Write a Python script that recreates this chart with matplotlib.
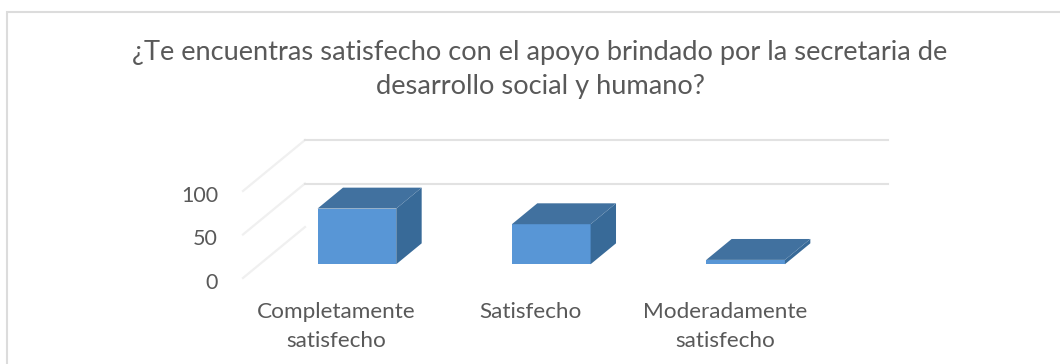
import matplotlib
matplotlib.use("Agg")
import matplotlib.pyplot as plt
from matplotlib.patches import Polygon, Rectangle
from matplotlib.transforms import ScaledTranslation

plt.rcParams['font.family'] = ['Lato', 'DejaVu Sans']

# datos
categories = ["Completamente\nsatisfecho", "Satisfecho", "Moderadamente\nsatisfecho"]
values = [64, 46, 5]
y_ticks = [0, 50, 100]
title = "¿Te encuentras satisfecho con el apoyo brindado por la secretaria de\ndesarrollo social y humano?"

W, H = 1060, 364
GRID = "#e2e2e2"
TEXT = "#595959"
FRONT = "#5896d6"
TOP = "#41719f"
SIDE = "#386a98"

# desplazamiento oblicuo de la caja 3D, en unidades de datos
DX = 0.319
DV = 58.6
BAR_W = 0.405
D0, D1 = 0.27, 0.68


def proj(x, v, d):
    return x + d * DX, v + d * DV


fig = plt.figure(figsize=(W / 100, H / 100), dpi=100)

# marco del grafico (solo se ven el lado izquierdo y el superior)
fig.add_artist(Rectangle((7 / W, -0.1), 1.1, 1.1 - 12 / H, transform=fig.transFigure,
                         fill=False, edgecolor="#dcdcdc", linewidth=1.5))

ax = fig.add_axes([243 / W, 1 - 278 / H, 583 / W, 87 / H])
ax.set_xlim(-0.5, 2.5)
ax.set_ylim(0, 100)
ax.patch.set_alpha(0)
for s in ax.spines.values():
    s.set_visible(False)
ax.tick_params(length=0)

# lineas de cuadricula: pared lateral y pared trasera
for v in y_ticks:
    x0, y0 = proj(-0.5, v, 0)
    x1, y1 = proj(-0.5, v, 1)
    ax.plot([x0, x1], [y0, y1], color="#f0f0f0", lw=1.6, clip_on=False)
    if v > 0:
        x2, y2 = proj(2.5, v, 1)
        ax.plot([x1, x2], [y1, y2], color=GRID, lw=1.5, clip_on=False)

# barras como cajas oblicuas
for i, val in enumerate(values):
    l, r = i - BAR_W / 2, i + BAR_W / 2
    face = [proj(l, 0, D0), proj(r, 0, D0), proj(r, val, D0), proj(l, val, D0)]
    top = [proj(l, val, D0), proj(r, val, D0), proj(r, val, D1), proj(l, val, D1)]
    side = [proj(r, 0, D0), proj(r, 0, D1), proj(r, val, D1), proj(r, val, D0)]
    ax.add_patch(Polygon(face, closed=True, facecolor=FRONT, edgecolor="none", clip_on=False, zorder=3))
    ax.add_patch(Polygon(side, closed=True, facecolor=SIDE, edgecolor="none", clip_on=False, zorder=3))
    ax.add_patch(Polygon(top, closed=True, facecolor=TOP, edgecolor="none", clip_on=False, zorder=4))

ax.set_yticks(y_ticks)
ax.set_yticklabels(y_ticks, fontsize=15.5, color=TEXT)
ax.tick_params(axis="y", pad=18)
ax.set_xticks(range(len(categories)))
ax.set_xticklabels(categories, fontsize=16.2, color=TEXT, linespacing=1.55)
ax.tick_params(axis="x", pad=17.5)

# ajuste fino de etiquetas, en pixeles
for lab in ax.get_yticklabels():
    lab.set_transform(lab.get_transform() + ScaledTranslation(0, -3 / 100, fig.dpi_scale_trans))
for lab in ax.get_xticklabels():
    lab.set_transform(lab.get_transform() + ScaledTranslation(-3.5 / 100, 0, fig.dpi_scale_trans))

fig.text(540 / W, 1 - 69.5 / H, title, ha="center", va="center", fontsize=19.6, color=TEXT, linespacing=1.45)

fig.savefig("out.png", dpi=100)
